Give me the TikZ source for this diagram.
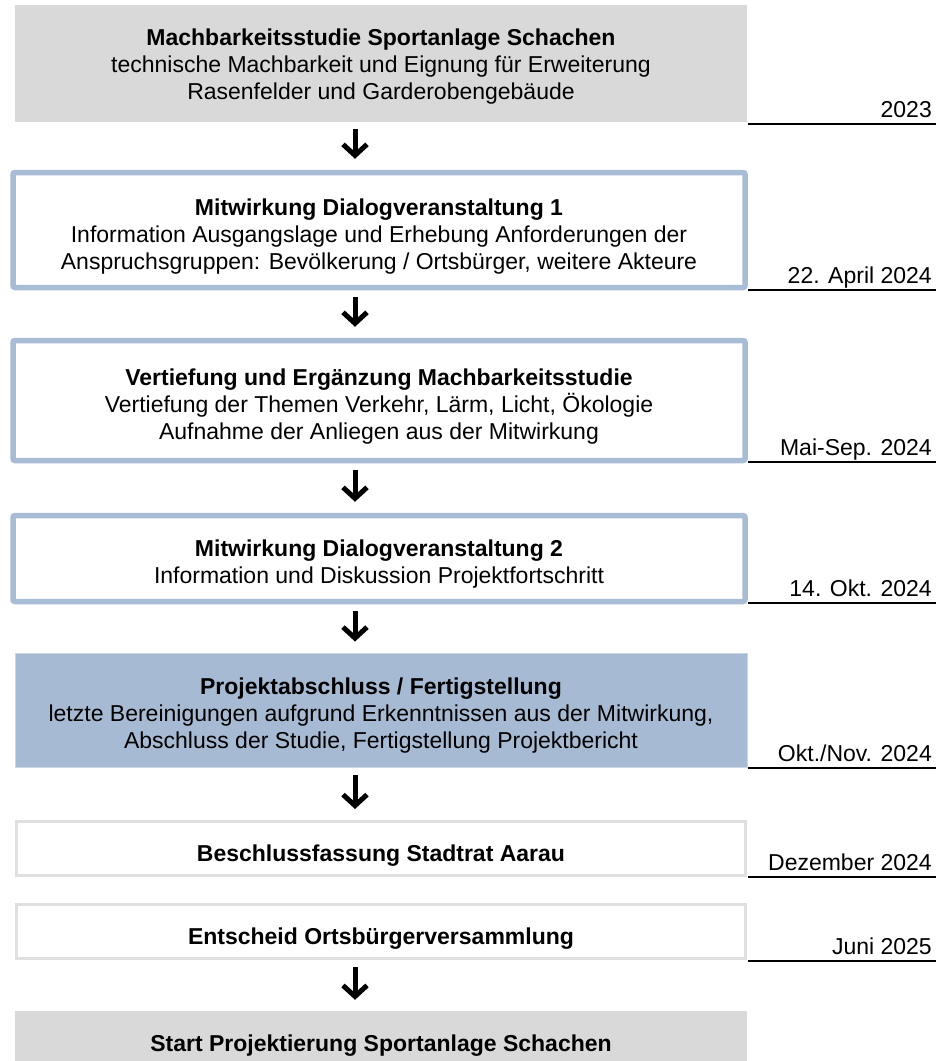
\documentclass[tikz,border=0pt]{standalone}
\usepackage{fontspec}
\setmainfont{Liberation Sans}
\usetikzlibrary{arrows.meta}

\definecolor{kastengrau}{RGB}{217,217,217}
\definecolor{rahmenblau}{RGB}{168,188,213}
\definecolor{fuellblau}{RGB}{166,187,211}
\definecolor{rahmengrau}{RGB}{224,224,224}

\begin{document}
\begin{tikzpicture}[x=1pt,y=-1pt,line join=miter,
    kasten/.style={inner sep=0pt,align=center,font=\fontsize{23}{27}\selectfont},
    graukasten/.style={kasten,fill=kastengrau,minimum width=732pt},
    blaurahmen/.style={kasten,draw=rahmenblau,line width=5.5pt,rounded corners=2pt,fill=white,minimum width=732pt},
    blaukasten/.style={kasten,fill=fuellblau,draw=fuellblau!60!white,line width=1pt,minimum width=732pt},
    weisskasten/.style={kasten,draw=rahmengrau,line width=3pt,fill=white,minimum width=729pt},
    datum/.style={anchor=base east,inner sep=0pt,font=\fontsize{23}{27}\selectfont},
    datumlinie/.style={line width=1.6pt},
    pfeil/.style={-{Straight Barb[length=11pt,width=24pt,line join=miter]},line width=5pt,shorten <=7pt,shorten >=11pt}]
        \clip (0,0) rectangle (946,1061);
        \coordinate (achse) at (355,0);

        % Machbarkeitsstudie
        \node[graukasten,minimum height=117pt] (studie) at (381,63.5)
            {\rule{0pt}{22pt}\textbf{Machbarkeitsstudie Sportanlage Schachen}\\
             technische Machbarkeit und Eignung für Erweiterung\\
             Rasenfelder und Garderobengebäude};
        \node[datum] (d1) at (932,117) {2023};
        \draw[datumlinie] (748,124) -- (936,124);

        % Dialog 1
        \node[blaurahmen,minimum height=115pt] (dialog1) at (379,230)
            {\rule{0pt}{30pt}\textbf{Mitwirkung Dialogveranstaltung 1}\\
             Information Ausgangslage und Erhebung Anforderungen der\\
             Anspruchsgruppen: Bevölkerung / Ortsbürger, weitere Akteure};
        \node[datum] (d2) at (932,283) {22. April 2024};
        \draw[datumlinie] (748,290) -- (936,290);

        % Vertiefung
        \node[blaurahmen,minimum height=120pt] (vertiefung) at (379,400.5)
            {\rule{0pt}{29pt}\textbf{Vertiefung und Ergänzung Machbarkeitsstudie}\\
             Vertiefung der Themen Verkehr, Lärm, Licht, Ökologie\\
             Aufnahme der Anliegen aus der Mitwirkung};
        \node[datum] (d3) at (932,455) {Mai-Sep. 2024};
        \draw[datumlinie] (748,462) -- (936,462);

        % Dialog 2
        \node[blaurahmen,minimum height=86pt] (dialog2) at (379,558.5)
            {\rule{0pt}{28pt}\textbf{Mitwirkung Dialogveranstaltung 2}\\
             Information und Diskussion Projektfortschritt};
        \node[datum] (d4) at (932,596) {14. Okt. 2024};
        \draw[datumlinie] (748,603) -- (936,603);

        % Abschluss
        \node[blaukasten,minimum height=114pt] (abschluss) at (381,710)
            {\rule{0pt}{28pt}\textbf{Projektabschluss / Fertigstellung}\\
             letzte Bereinigungen aufgrund Erkenntnissen aus der Mitwirkung,\\
             Abschluss der Studie, Fertigstellung Projektbericht};
        \node[datum] (d5) at (932,761) {Okt./Nov. 2024};
        \draw[datumlinie] (748,768) -- (936,768);

        % Stadtrat
        \node[weisskasten,minimum height=54pt] (stadtrat) at (381,848.5)
            {\rule{0pt}{31pt}\textbf{Beschlussfassung Stadtrat Aarau}};
        \node[datum] (d6) at (932,870) {Dezember 2024};
        \draw[datumlinie] (748,877) -- (936,877);

        % Ortsbürger
        \node[weisskasten,minimum height=54pt] (ortsbuerger) at (381,931.5)
            {\rule{0pt}{31pt}\textbf{Entscheid Ortsbürgerversammlung}};
        \node[datum] (d7) at (932,954) {Juni 2025};
        \draw[datumlinie] (748,961) -- (936,961);

        % Projektierung
        \node[graukasten,minimum height=62pt] (projektierung) at (381,1042)
            {\rule{0pt}{23pt}\textbf{Start Projektierung Sportanlage Schachen}};

        % Pfeile
        \draw[pfeil] (studie.south -| achse) -- (dialog1.north -| achse);
        \draw[pfeil] (dialog1.south -| achse) -- (vertiefung.north -| achse);
        \draw[pfeil] (vertiefung.south -| achse) -- (dialog2.north -| achse);
        \draw[pfeil] (dialog2.south -| achse) -- (abschluss.north -| achse);
        \draw[pfeil] (abschluss.south -| achse) -- (stadtrat.north -| achse);
        \draw[pfeil] (ortsbuerger.south -| achse) -- (projektierung.north -| achse);
\end{tikzpicture}
\end{document}
